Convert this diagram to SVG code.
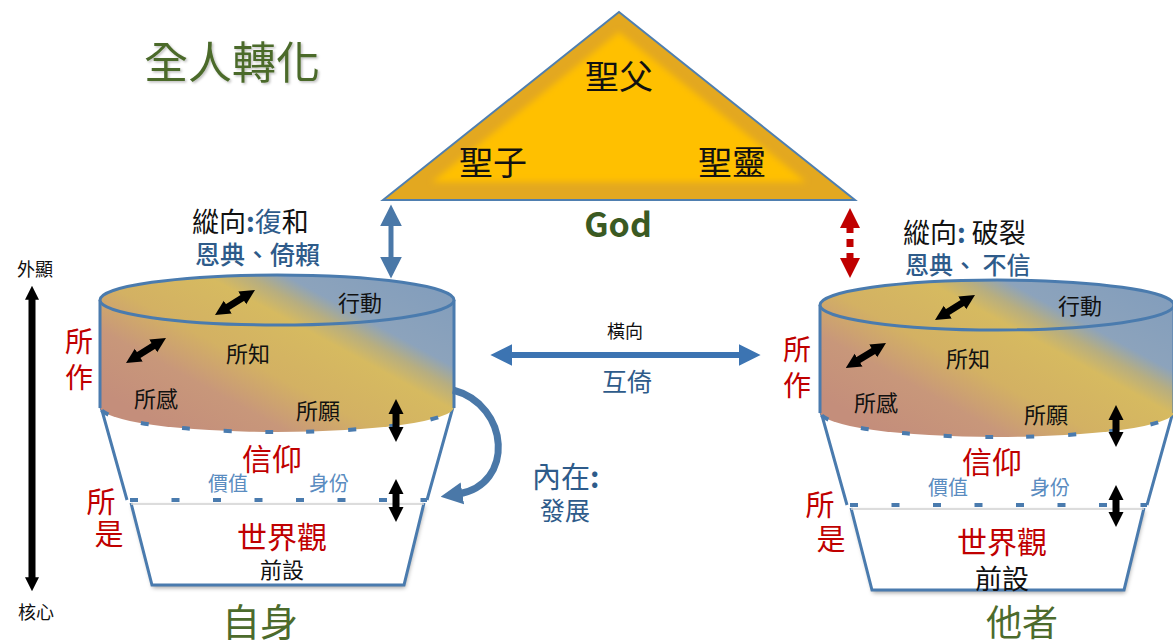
<svg xmlns="http://www.w3.org/2000/svg" width="1173" height="641" viewBox="0 0 1173 641">
  <style>
    text { font-family: "Noto Sans CJK TC", "Noto Sans CJK SC", sans-serif; }
    .c { text-anchor: middle; }
    .blk { fill: #111; }
    .red { fill: #C00000; }
    .navy { fill: #2E5B8A; }
    .lblue { fill: #5A8CC0; }
    .green { fill: #4C6B2C; }
    .rim { stroke: #4A7BAE; stroke-width: 3; fill: none; }
    .dash { stroke: #4A7BAE; stroke-width: 4; fill: none; stroke-dasharray: 8 33.5; }
    .bk { stroke: #000; stroke-width: 7; fill: none; }
  </style>
  <defs>
    <!-- colour band of the cup: brown core, yellow middle, blue rim -->
    <linearGradient id="band" gradientUnits="userSpaceOnUse" x1="170" y1="430" x2="300" y2="190">
      <stop offset="0" stop-color="#C48E7B"/>
      <stop offset="0.2" stop-color="#C8977A"/>
      <stop offset="0.36" stop-color="#D3B163"/>
      <stop offset="0.56" stop-color="#D6BA60"/>
      <stop offset="0.63" stop-color="#B7AE80"/>
      <stop offset="0.7" stop-color="#8CA3BC"/>
      <stop offset="1" stop-color="#809CBC"/>
    </linearGradient>
    <filter id="soft" x="-10%" y="-10%" width="120%" height="120%">
      <feGaussianBlur stdDeviation="3"/>
    </filter>
    <filter id="shadow" x="-10%" y="-10%" width="120%" height="130%">
      <feDropShadow dx="1" dy="3" stdDeviation="2" flood-color="#000" flood-opacity="0.35"/>
    </filter>
    <filter id="tshadow" x="-5%" y="-10%" width="115%" height="130%">
      <feDropShadow dx="1.5" dy="1.5" stdDeviation="1" flood-color="#000" flood-opacity="0.25"/>
    </filter>
    <marker id="hBlack" viewBox="0 0 10 10" refX="2" refY="5" markerWidth="15" markerHeight="21" markerUnits="userSpaceOnUse" orient="auto-start-reverse">
      <path d="M0,0 L10,5 L0,10 Z" fill="#000"/>
    </marker>
    <marker id="hAxis" viewBox="0 0 10 10" refX="2" refY="5" markerWidth="14" markerHeight="20" markerUnits="userSpaceOnUse" orient="auto-start-reverse">
      <path d="M0,0 L10,5 L0,10 Z" fill="#000"/>
    </marker>
    <marker id="hBlue" viewBox="0 0 10 10" refX="2" refY="5" markerWidth="22" markerHeight="24" markerUnits="userSpaceOnUse" orient="auto-start-reverse">
      <path d="M0,0 L10,5 L0,10 Z" fill="#3C74B2"/>
    </marker>
    <marker id="hSteel" viewBox="0 0 10 10" refX="2" refY="5" markerWidth="22" markerHeight="22" markerUnits="userSpaceOnUse" orient="auto-start-reverse">
      <path d="M0,0 L10,5 L0,10 Z" fill="#4A78A8"/>
    </marker>
    <marker id="hCurve" viewBox="0 0 10 10" refX="2" refY="5" markerWidth="22" markerHeight="24" markerUnits="userSpaceOnUse" orient="auto">
      <path d="M0,0 L10,5 L0,10 Z" fill="#4A78A8"/>
    </marker>
    <marker id="hRed" viewBox="0 0 10 10" refX="2" refY="5" markerWidth="20" markerHeight="22" markerUnits="userSpaceOnUse" orient="auto-start-reverse">
      <path d="M0,0 L10,5 L0,10 Z" fill="#C00000"/>
    </marker>
    <!-- cup shape shared by both persons -->
    <g id="cupShape">
      <polygon points="131,503 424,503 404,585 152,585" fill="#fff" filter="url(#shadow)"/>
      <path d="M131,503 L152,585 L404,585 L424,503" class="rim"/>
      <line x1="131" y1="504" x2="424" y2="504" stroke="#D0D0D0" stroke-width="1.5"/>
      <polygon points="101,407 127,500 427,500 453,407" fill="#fff"/>
      <path d="M101,407 L127,500 M453,407 L427,500" class="rim"/>
      <line x1="130" y1="500" x2="427" y2="500" class="dash"/>
      <path d="M100,300 V407 A177,25 0 0 0 454,407 V300 Z" fill="url(#band)"/>
      <path d="M100,300 V408 M454,300 V408" class="rim"/>
      <path d="M100,407 A177,25 0 0 0 454,407" class="dash" stroke-dashoffset="-4"/>
      <ellipse cx="277" cy="300" rx="177" ry="25" class="rim" style="fill:url(#band)"/>
    </g>
  </defs>

  <!-- heading -->
  <g id="title">
    <text x="232" y="79" class="c green" font-size="44" filter="url(#tshadow)">全人轉化</text>
  </g>

  <!-- the Trinity -->
  <g id="trinity">
    <polygon points="383,200 619,12 855,200" fill="#E3A820" stroke="#4F7FB0" stroke-width="2"/>
    <polygon points="432,182 619,32 806,182" fill="#FFC000" filter="url(#soft)"/>
    <text x="619" y="89" class="c blk" font-size="34">聖父</text>
    <text x="493" y="175" class="c blk" font-size="34">聖子</text>
    <text x="732" y="175" class="c blk" font-size="34">聖靈</text>
    <text x="618" y="237" class="c" font-family="'Open Sans', 'Noto Sans', sans-serif" font-weight="bold" font-size="34" fill="#3B5A22">God</text>
  </g>

  <!-- depth axis -->
  <g id="axis">
    <text x="35" y="276" class="c blk" font-size="18">外顯</text>
    <text x="36" y="619" class="c blk" font-size="18">核心</text>
  </g>

  <!-- self -->
  <g id="self">
    <use href="#cupShape"/>
    <text x="360" y="311" class="c blk" font-size="22">行動</text>
    <text x="248" y="362" class="c blk" font-size="22">所知</text>
    <text x="156" y="407" class="c blk" font-size="22">所感</text>
    <text x="318" y="419" class="c blk" font-size="22">所願</text>
    <text x="272" y="470" class="c red" font-size="30">信仰</text>
    <text x="228" y="491" class="c lblue" font-size="20">價值</text>
    <text x="329" y="491" class="c lblue" font-size="20">身份</text>
    <text x="282" y="548" class="c red" font-size="30">世界觀</text>
    <text x="282" y="578" class="c blk" font-size="22">前設</text>
    <text x="79" y="352" class="c red" font-size="28">所</text>
    <text x="79" y="388" class="c red" font-size="28">作</text>
    <text x="101" y="513" class="c red" font-size="29">所</text>
    <text x="109" y="545" class="c red" font-size="29">是</text>
    <text x="260" y="636" class="c green" font-size="38">自身</text>
    <text x="192" y="232" font-size="27"><tspan class="blk">縱向</tspan><tspan class="navy" font-weight="bold">:</tspan><tspan class="navy">復</tspan><tspan class="blk">和</tspan></text>
    <text x="195" y="264" class="navy" font-size="25" font-weight="500">恩典、倚賴</text>
  </g>

  <!-- other -->
  <g id="other">
    <use href="#cupShape" transform="translate(720,5)"/>
    <text x="1080" y="314" class="c blk" font-size="22">行動</text>
    <text x="968" y="367" class="c blk" font-size="22">所知</text>
    <text x="876" y="411" class="c blk" font-size="22">所感</text>
    <text x="1046" y="423" class="c blk" font-size="22">所願</text>
    <text x="992" y="473" class="c red" font-size="30">信仰</text>
    <text x="948" y="495" class="c lblue" font-size="20">價值</text>
    <text x="1050" y="495" class="c lblue" font-size="20">身份</text>
    <text x="1002" y="553" class="c red" font-size="30">世界觀</text>
    <text x="1002" y="589" class="c blk" font-size="27">前設</text>
    <text x="797" y="360" class="c red" font-size="28">所</text>
    <text x="797" y="396" class="c red" font-size="28">作</text>
    <text x="820" y="516" class="c red" font-size="29">所</text>
    <text x="831" y="550" class="c red" font-size="29">是</text>
    <text x="1022" y="636" class="c green" font-size="36">他者</text>
    <text x="903" y="243" font-size="27"><tspan class="blk">縱向</tspan><tspan class="navy" font-weight="bold">:</tspan><tspan class="blk"> 破裂</tspan></text>
    <text x="905" y="274" class="navy" font-size="24" font-weight="500">恩典、 不信</text>
  </g>

  <!-- labels of the relations -->
  <g id="relations">
    <text x="625" y="338" class="c blk" font-size="18">橫向</text>
    <text x="627" y="391" class="c navy" font-size="25">互倚</text>
    <text x="532" y="488" class="navy" font-size="29">內在<tspan font-weight="bold">:</tspan></text>
    <text x="565" y="520" class="c navy" font-size="25">發展</text>
  </g>

  <!-- connectors -->
  <g id="connectors">
    <line x1="32" y1="297" x2="32" y2="580" stroke="#000" stroke-width="7" marker-start="url(#hAxis)" marker-end="url(#hAxis)"/>
    <line x1="391" y1="222" x2="391" y2="261" stroke="#4A78A8" stroke-width="5" marker-start="url(#hSteel)" marker-end="url(#hSteel)"/>
    <line x1="850" y1="224" x2="850" y2="262" stroke="#C00000" stroke-width="7" stroke-dasharray="9 6 8 6 9" marker-start="url(#hRed)" marker-end="url(#hRed)"/>
    <line x1="508" y1="355" x2="743" y2="355" stroke="#3C74B2" stroke-width="6" marker-start="url(#hBlue)" marker-end="url(#hBlue)"/>
    <path d="M453,390 C510,405 515,485 458,494" stroke="#4A78A8" stroke-width="7" fill="none" marker-end="url(#hCurve)"/>
    <!-- arrows inside the cups -->
    <line x1="225.2" y1="308.6" x2="244.8" y2="296.4" class="bk" marker-start="url(#hBlack)" marker-end="url(#hBlack)"/>
    <line x1="136.2" y1="356.6" x2="155.8" y2="344.4" class="bk" marker-start="url(#hBlack)" marker-end="url(#hBlack)"/>
    <line x1="396" y1="411" x2="396" y2="430" class="bk" marker-start="url(#hBlack)" marker-end="url(#hBlack)"/>
    <line x1="396" y1="491" x2="396" y2="510" class="bk" marker-start="url(#hBlack)" marker-end="url(#hBlack)"/>
    <line x1="945.2" y1="313.6" x2="964.8" y2="301.4" class="bk" marker-start="url(#hBlack)" marker-end="url(#hBlack)"/>
    <line x1="856" y1="361.6" x2="875.8" y2="349.4" class="bk" marker-start="url(#hBlack)" marker-end="url(#hBlack)"/>
    <line x1="1116" y1="417" x2="1116" y2="435" class="bk" marker-start="url(#hBlack)" marker-end="url(#hBlack)"/>
    <line x1="1116" y1="497" x2="1116" y2="515" class="bk" marker-start="url(#hBlack)" marker-end="url(#hBlack)"/>
  </g>
</svg>
